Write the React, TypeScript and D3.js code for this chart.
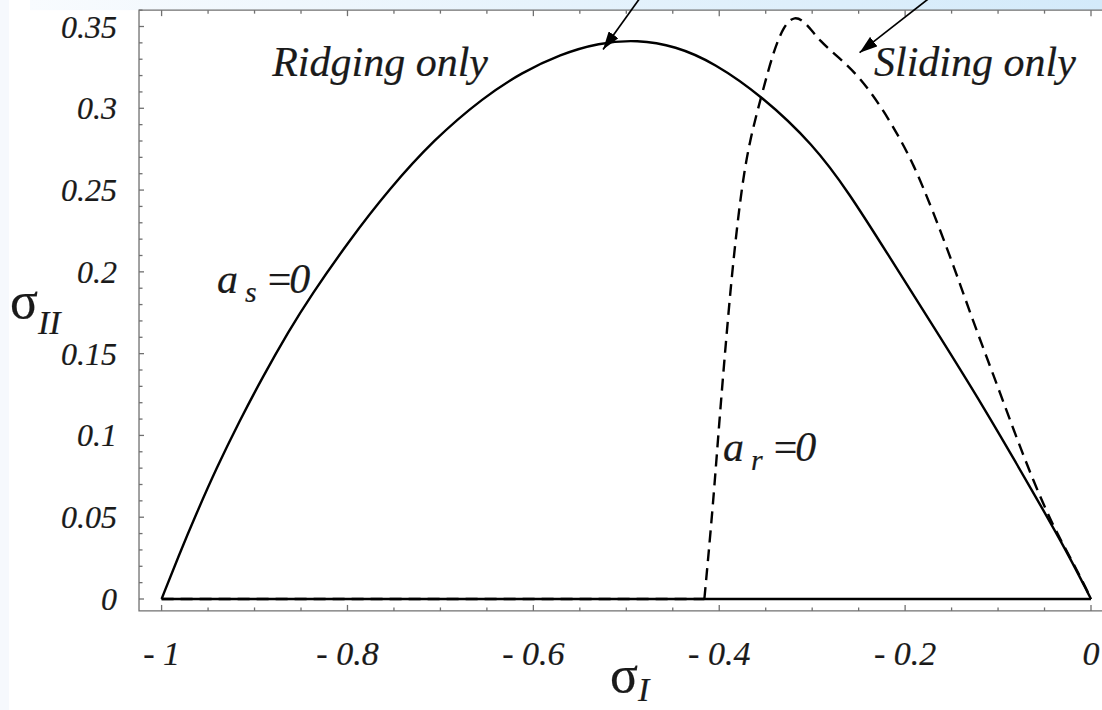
import React, { useEffect, useRef } from 'react';
import * as d3 from 'd3';

// a_s = 0 boundary (solid): [sigma_I, sigma_II]
const ridgeCurve: [number, number][] = [
  [-1, 0], [-0.982, 0.026], [-0.962, 0.053], [-0.941, 0.08], [-0.916, 0.109],
  [-0.892, 0.135], [-0.863, 0.164], [-0.84, 0.185], [-0.797, 0.22], [-0.756, 0.25],
  [-0.707, 0.281], [-0.653, 0.307], [-0.612, 0.322], [-0.571, 0.333], [-0.53, 0.34],
  [-0.488, 0.342], [-0.447, 0.338], [-0.406, 0.328], [-0.353, 0.307], [-0.299, 0.278],
  [-0.26, 0.248], [-0.22, 0.212], [-0.17, 0.167], [-0.116, 0.118], [-0.062, 0.065],
  [-0.026, 0.029], [0, 0],
];

// a_r = 0 boundary (dashed): straight run along sigma_II = 0, then the curve
const slideBase: [number, number][] = [[-1, 0], [-0.416, 0]];
const slideCurve: [number, number][] = [
  [-0.416, 0], [-0.407, 0.055], [-0.4, 0.108], [-0.393, 0.156], [-0.386, 0.201],
  [-0.377, 0.247], [-0.368, 0.279], [-0.353, 0.311], [-0.342, 0.334], [-0.331, 0.35],
  [-0.319, 0.357], [-0.306, 0.352], [-0.292, 0.341], [-0.271, 0.331], [-0.249, 0.319],
  [-0.227, 0.302], [-0.209, 0.285], [-0.191, 0.266], [-0.17, 0.237], [-0.148, 0.204],
  [-0.127, 0.17], [-0.105, 0.137], [-0.083, 0.103], [-0.062, 0.072], [-0.04, 0.0435],
  [-0.019, 0.022], [-0.004, 0.005], [0, 0],
];

const baseline: [number, number][] = [[-1, 0], [0, 0]];

const xTickValues = [-1, -0.8, -0.6, -0.4, -0.2, 0];
const xTickLabels = ['- 1', '- 0.8', '- 0.6', '- 0.4', '- 0.2', '0'];
const yTickValues = [0, 0.05, 0.1, 0.15, 0.2, 0.25, 0.3, 0.35];
const yTickLabels = ['0', '0.05', '0.1', '0.15', '0.2', '0.25', '0.3', '0.35'];

// arrows coming in from the (cropped) text above the plot
const arrowFrom: [number, number][] = [[-0.482, 0.37], [-0.168, 0.37]];
const arrowTo: [number, number][] = [[-0.525, 0.336], [-0.249, 0.334]];

const W = 1102;
const H = 710;
const SERIF = "'Liberation Serif', 'Times New Roman', Times, 'DejaVu Serif', serif";

const App = () => {
  const ref = useRef<SVGSVGElement | null>(null);

  useEffect(() => {
    if (!ref.current) return;
    const svg = d3.select(ref.current);
    svg.selectAll('*').remove();

    const x = d3.scaleLinear().domain([-1, 0]).range([161.6, 1091]);
    const y = d3.scaleLinear().domain([0, 0.35]).range([599, 26.5]);

    // frame edges
    const fx0 = x(-1.0243);
    const fy0 = y(-0.0073);
    const fy1 = y(0.36);

    const defs = svg.append('defs');
    const grad = defs.append('linearGradient').attr('id', 'band').attr('x1', '0%').attr('x2', '100%');
    grad.append('stop').attr('offset', '0%').attr('stop-color', '#f8fbfe');
    grad.append('stop').attr('offset', '100%').attr('stop-color', '#d3eafa');
    defs.append('marker')
      .attr('id', 'head')
      .attr('viewBox', '0 0 18 12')
      .attr('refX', 18).attr('refY', 6)
      .attr('markerWidth', 18).attr('markerHeight', 12)
      .attr('markerUnits', 'userSpaceOnUse')
      .attr('orient', 'auto')
      .append('path').attr('d', 'M0,0 L18,6 L0,12 Z').attr('fill', '#000');

    svg.append('rect').attr('width', W).attr('height', H).attr('fill', '#fff');
    svg.append('rect').attr('x', 0).attr('y', 0).attr('width', 9).attr('height', H).attr('fill', '#f6f9fd');
    svg.append('rect').attr('x', 30).attr('y', 0).attr('width', W - 30).attr('height', fy1).attr('fill', 'url(#band)');

    // frame
    const frame = svg.append('g').attr('stroke', '#707070').attr('stroke-width', 1.3).attr('fill', 'none');
    frame.append('path').attr('d', `M${W},${fy1} H${fx0} V${fy0} H${W}`);

    // x ticks, every 0.05, on bottom and top
    d3.range(-1, 0.001, 0.05).forEach((v) => {
      const major = xTickValues.some((t) => Math.abs(t - v) < 1e-6);
      const len = major ? 6 : 3.5;
      frame.append('line').attr('x1', x(v)).attr('x2', x(v)).attr('y1', fy0).attr('y2', fy0 - len);
      frame.append('line').attr('x1', x(v)).attr('x2', x(v)).attr('y1', fy1).attr('y2', fy1 + len);
    });
    // y ticks, every 0.01
    d3.range(0, 0.3601, 0.01).forEach((v) => {
      const major = yTickValues.some((t) => Math.abs(t - v) < 1e-6);
      const len = major ? 5 : 3.5;
      frame.append('line').attr('x1', fx0).attr('x2', fx0 + len).attr('y1', y(v)).attr('y2', y(v));
    });

    const straight = d3.line<[number, number]>().x((d) => x(d[0])).y((d) => y(d[1]));
    const smooth = d3.line<[number, number]>()
      .x((d) => x(d[0]))
      .y((d) => y(d[1]))
      .curve(d3.curveBasis);

    svg.append('path').datum(baseline).attr('d', straight)
      .attr('fill', 'none').attr('stroke', '#000').attr('stroke-width', 2.4);
    svg.append('path').datum(ridgeCurve).attr('d', smooth)
      .attr('fill', 'none').attr('stroke', '#000').attr('stroke-width', 2.4);
    [slideBase, slideCurve].forEach((pts, i) => {
      svg.append('path').datum(pts).attr('d', i === 0 ? straight : smooth)
        .attr('fill', 'none').attr('stroke', '#000').attr('stroke-width', 2.4)
        .attr('stroke-dasharray', '12,7');
    });

    arrowFrom.forEach((a, i) => {
      const b = arrowTo[i];
      svg.append('line')
        .attr('x1', x(a[0])).attr('y1', y(a[1]))
        .attr('x2', x(b[0])).attr('y2', y(b[1]))
        .attr('stroke', '#000').attr('stroke-width', 1.7)
        .attr('marker-end', 'url(#head)');
    });

    const ink = (sel: any) => sel.attr('fill', '#1a1a1a').attr('stroke', '#1a1a1a').attr('stroke-width', 0.2);

    // tick labels
    svg.append('g').call(ink).selectAll('text').data(yTickValues).enter().append('text')
      .attr('x', 117).attr('y', (d) => y(d))
      .attr('text-anchor', 'end').attr('dominant-baseline', 'central')
      .style('font-family', SERIF).style('font-style', 'italic').style('font-size', '32px')
      .text((d, i) => yTickLabels[i]);
    svg.append('g').call(ink).selectAll('text').data(xTickValues).enter().append('text')
      .attr('x', (d) => x(d)).attr('y', 665)
      .attr('text-anchor', 'middle')
      .style('font-family', SERIF).style('font-style', 'italic').style('font-size', '34px')
      .text((d, i) => xTickLabels[i]);

    // axis titles
    const yt = svg.append('text').attr('x', 10).attr('y', 318).style('font-family', SERIF).call(ink);
    yt.append('tspan').style('font-size', '52px').text('σ');
    yt.append('tspan').style('font-size', '34px').style('font-style', 'italic').attr('dy', 16).text('II');
    const xt = svg.append('text').attr('x', 610).attr('y', 692).style('font-family', SERIF).call(ink);
    xt.append('tspan').style('font-size', '52px').text('σ');
    xt.append('tspan').style('font-size', '34px').style('font-style', 'italic').attr('dy', 9).text('I');

    // region labels
    const region = (txt: string, px: number, py: number) =>
      svg.append('text').attr('x', x(px)).attr('y', y(py))
        .style('font-family', SERIF).style('font-style', 'italic').style('font-size', '42px')
        .call(ink).text(txt);
    region('Ridging only', -0.881, 0.32);
    region('Sliding only', -0.2335, 0.32);

    // a_s = 0 and a_r = 0 labels, one text each
    const eqLabel = (sub: string, px: number, py: number) => {
      const t = svg.append('text').attr('x', x(px)).attr('y', y(py))
        .style('font-family', SERIF).style('font-size', '42px').call(ink);
      t.append('tspan').style('font-style', 'italic').text('a');
      t.append('tspan').attr('dx', 7).attr('dy', 9).style('font-size', '30px').style('font-style', 'italic').text(sub);
      t.append('tspan').attr('dx', 11).attr('dy', -9).text('=');
      t.append('tspan').attr('dx', -2).style('font-style', 'italic').text('0');
    };
    eqLabel('s', -0.9404, 0.187);
    eqLabel('r', -0.396, 0.0844);
  }, []);

  return (
    <div style={{ position: 'absolute', top: 0, left: 0, width: W, height: H, background: '#fff' }}>
      <svg ref={ref} width={W} height={H} style={{ display: 'block' }} />
    </div>
  );
};

export default App;
